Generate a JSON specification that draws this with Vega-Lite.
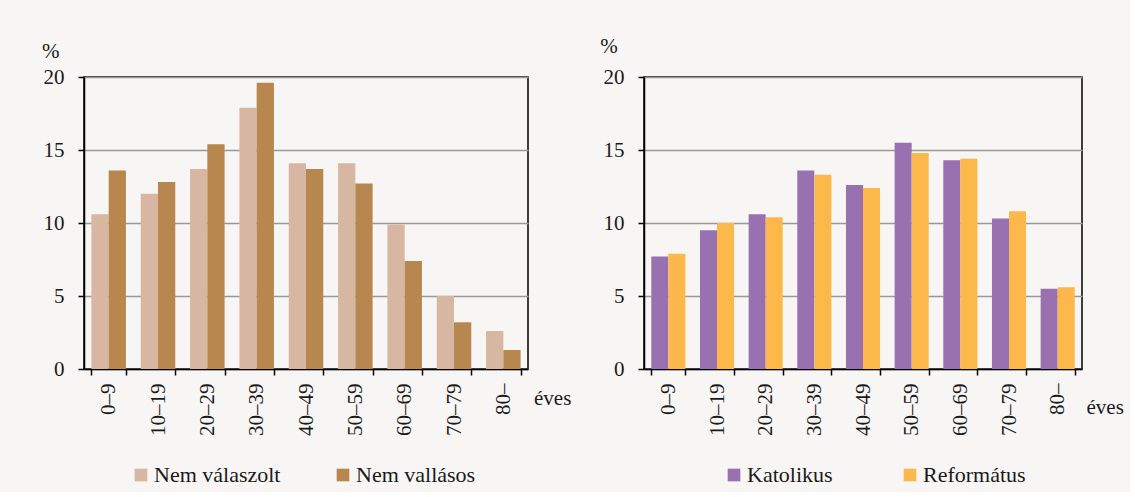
{
  "$schema": "https://vega.github.io/schema/vega-lite/v6.json",
  "background": "#f7f6f4",
  "autosize": {"type": "pad"},
  "padding": {"left": 40, "top": 34, "right": 5, "bottom": 5},
  "config": {
    "font": "'Liberation Serif', 'DejaVu Serif', serif",
    "view": {"stroke": "black", "strokeWidth": 1.5},
    "axis": {
      "labelFont": "'Liberation Serif', 'DejaVu Serif', serif",
      "titleFont": "'Liberation Serif', 'DejaVu Serif', serif",
      "labelFontSize": 21,
      "titleFontSize": 21,
      "titleFontWeight": "normal",
      "labelColor": "#1a1a1a",
      "titleColor": "#1a1a1a",
      "domainColor": "black",
      "domainWidth": 1.5,
      "tickColor": "black",
      "tickWidth": 1.5,
      "tickSize": 6
    },
    "legend": {
      "labelFont": "'Liberation Serif', 'DejaVu Serif', serif",
      "labelFontSize": 22,
      "labelColor": "#1a1a1a"
    }
  },
  "datasets": {
    "left": [
      {"age": "0–9", "series": "Nem válaszolt", "value": 10.6},
      {"age": "0–9", "series": "Nem vallásos", "value": 13.6},
      {"age": "10–19", "series": "Nem válaszolt", "value": 12.0},
      {"age": "10–19", "series": "Nem vallásos", "value": 12.8},
      {"age": "20–29", "series": "Nem válaszolt", "value": 13.7},
      {"age": "20–29", "series": "Nem vallásos", "value": 15.4},
      {"age": "30–39", "series": "Nem válaszolt", "value": 17.9},
      {"age": "30–39", "series": "Nem vallásos", "value": 19.6},
      {"age": "40–49", "series": "Nem válaszolt", "value": 14.1},
      {"age": "40–49", "series": "Nem vallásos", "value": 13.7},
      {"age": "50–59", "series": "Nem válaszolt", "value": 14.1},
      {"age": "50–59", "series": "Nem vallásos", "value": 12.7},
      {"age": "60–69", "series": "Nem válaszolt", "value": 9.9},
      {"age": "60–69", "series": "Nem vallásos", "value": 7.4},
      {"age": "70–79", "series": "Nem válaszolt", "value": 5.0},
      {"age": "70–79", "series": "Nem vallásos", "value": 3.2},
      {"age": "80–", "series": "Nem válaszolt", "value": 2.6},
      {"age": "80–", "series": "Nem vallásos", "value": 1.3}
    ],
    "right": [
      {"age": "0–9", "series": "Katolikus", "value": 7.7},
      {"age": "0–9", "series": "Református", "value": 7.9},
      {"age": "10–19", "series": "Katolikus", "value": 9.5},
      {"age": "10–19", "series": "Református", "value": 10.0},
      {"age": "20–29", "series": "Katolikus", "value": 10.6},
      {"age": "20–29", "series": "Református", "value": 10.4},
      {"age": "30–39", "series": "Katolikus", "value": 13.6},
      {"age": "30–39", "series": "Református", "value": 13.3},
      {"age": "40–49", "series": "Katolikus", "value": 12.6},
      {"age": "40–49", "series": "Református", "value": 12.4},
      {"age": "50–59", "series": "Katolikus", "value": 15.5},
      {"age": "50–59", "series": "Református", "value": 14.8},
      {"age": "60–69", "series": "Katolikus", "value": 14.3},
      {"age": "60–69", "series": "Református", "value": 14.4},
      {"age": "70–79", "series": "Katolikus", "value": 10.3},
      {"age": "70–79", "series": "Református", "value": 10.8},
      {"age": "80–", "series": "Katolikus", "value": 5.5},
      {"age": "80–", "series": "Református", "value": 5.6}
    ]
  },
  "bounds": "flush",
  "spacing": 116,
  "hconcat": [
    {
      "data": {"name": "left"},
      "width": 444,
      "height": 292,
      "mark": {"type": "bar"},
      "encoding": {
        "x": {
          "field": "age", "type": "nominal", "sort": null,
          "scale": {"paddingInner": 0.3, "paddingOuter": 0.15},
          "axis": {
            "title": "éves", "titleAngle": 0, "titleAlign": "left", "titleBaseline": "alphabetic",
            "titleX": 449.5, "titleY": 35.5,
            "labelAngle": -90, "labelAlign": "right", "labelBaseline": "middle",
            "labelPadding": 8, "tickBand": "extent",
            "labelExpr": "datum.label == '80–' ? '80–\u00a0\u00a0\u00a0\u00a0' : datum.label"
          }
        },
        "xOffset": {"field": "series", "type": "nominal", "sort": ["Nem válaszolt", "Nem vallásos"]},
        "y": {
          "field": "value", "type": "quantitative",
          "scale": {"domain": [0, 20]},
          "axis": {
            "title": "%", "titleAngle": 0, "titleAlign": "left", "titleBaseline": "top",
            "titleX": -42.5, "titleY": -36.5,
            "values": [0, 5, 10, 15, 20], "labelPadding": 14,
            "grid": true, "gridColor": "#999999", "gridWidth": 1.3
          }
        },
        "color": {
          "field": "series", "type": "nominal",
          "scale": {"domain": ["Nem válaszolt", "Nem vallásos"], "range": ["#d7b7a1", "#b8874f"]},
          "legend": {
            "orient": "none", "legendX": 46, "legendY": 387, "direction": "horizontal",
            "title": null, "symbolType": "square", "symbolSize": 160, "symbolStrokeWidth": 0,
            "labelOffset": 2, "columnPadding": 51, "padding": 0
          }
        }
      }
    },
    {
      "data": {"name": "right"},
      "width": 438,
      "height": 292,
      "mark": {"type": "bar"},
      "encoding": {
        "x": {
          "field": "age", "type": "nominal", "sort": null,
          "scale": {"paddingInner": 0.3, "paddingOuter": 0.15},
          "axis": {
            "title": "éves", "titleAngle": 0, "titleAlign": "left", "titleBaseline": "alphabetic",
            "titleX": 442, "titleY": 44.5,
            "labelAngle": -90, "labelAlign": "right", "labelBaseline": "middle",
            "labelPadding": 8, "tickBand": "extent",
            "labelExpr": "datum.label == '80–' ? '80–\u00a0\u00a0\u00a0\u00a0' : datum.label"
          }
        },
        "xOffset": {"field": "series", "type": "nominal", "sort": ["Katolikus", "Református"]},
        "y": {
          "field": "value", "type": "quantitative",
          "scale": {"domain": [0, 20]},
          "axis": {
            "title": "%", "titleAngle": 0, "titleAlign": "left", "titleBaseline": "top",
            "titleX": -44.3, "titleY": -41.5,
            "values": [0, 5, 10, 15, 20], "labelPadding": 14,
            "grid": true, "gridColor": "#999999", "gridWidth": 1.3
          }
        },
        "color": {
          "field": "series", "type": "nominal",
          "scale": {"domain": ["Katolikus", "Református"], "range": ["#9a71b0", "#fdb84b"]},
          "legend": {
            "orient": "none", "legendX": 79, "legendY": 387, "direction": "horizontal",
            "title": null, "symbolType": "square", "symbolSize": 160, "symbolStrokeWidth": 0,
            "labelOffset": 2, "columnPadding": 66, "padding": 0
          }
        }
      }
    }
  ],
  "resolve": {
    "scale": {"color": "independent", "x": "independent", "y": "independent", "xOffset": "independent"},
    "legend": {"color": "independent"}
  }
}
